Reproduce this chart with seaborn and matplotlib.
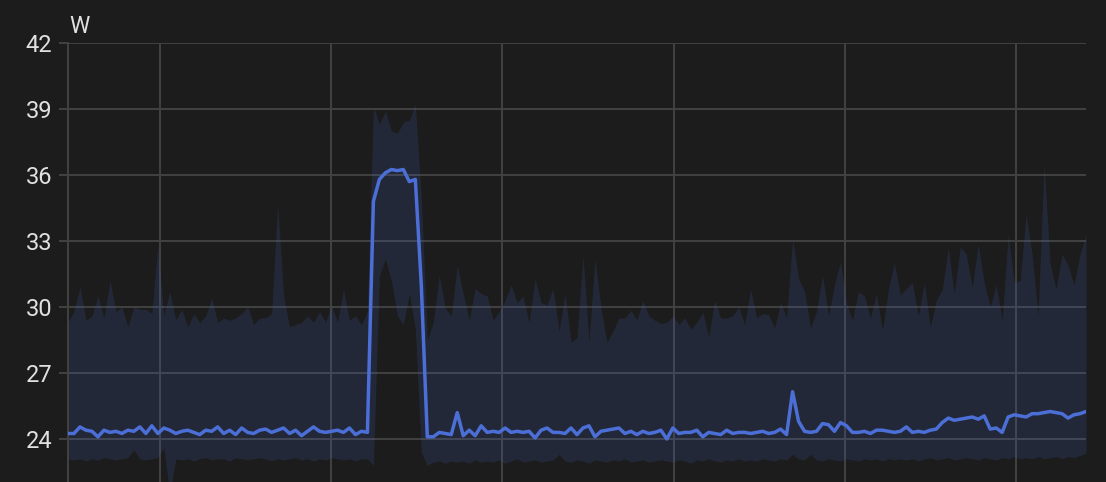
import numpy as np
import pandas as pd
import matplotlib
matplotlib.use("Agg")
import matplotlib.pyplot as plt
import matplotlib.dates as mdates
import seaborn as sns

# ---------------- data ----------------
start_time = "2024-05-01 09:51"
end_time = "2024-05-02 09:38"
unit_label = "W"
y_ticks = [24, 27, 30, 33, 36, 39, 42]

mean_w = [
    24.25, 24.25, 24.55, 24.4, 24.35, 24.1, 24.4, 24.3, 24.35, 24.25,
    24.4, 24.35, 24.55, 24.25, 24.6, 24.25, 24.5, 24.4, 24.25, 24.35,
    24.4, 24.3, 24.2, 24.4, 24.35, 24.55, 24.25, 24.4, 24.2, 24.5,
    24.3, 24.25, 24.4, 24.45, 24.3, 24.4, 24.5, 24.25, 24.4, 24.15,
    24.35, 24.55, 24.35, 24.3, 24.35, 24.4, 24.3, 24.5, 24.2, 24.35,
    24.3, 34.8, 35.8, 36.1, 36.25, 36.2, 36.25, 35.7, 35.8, 31.0,
    24.1, 24.1, 24.3, 24.25, 24.2, 25.2, 24.15, 24.4, 24.15, 24.6,
    24.3, 24.35, 24.3, 24.5, 24.3, 24.35, 24.3, 24.35, 24.05, 24.4,
    24.5, 24.3, 24.3, 24.25, 24.5, 24.2, 24.5, 24.6, 24.1, 24.35,
    24.4, 24.45, 24.5, 24.25, 24.35, 24.2, 24.35, 24.25, 24.3, 24.4,
    24.0, 24.5, 24.25, 24.3, 24.3, 24.4, 24.1, 24.3, 24.25, 24.2,
    24.4, 24.25, 24.3, 24.3, 24.25, 24.3, 24.35, 24.25, 24.3, 24.45,
    24.2, 26.15, 24.8, 24.35, 24.3, 24.35, 24.7, 24.65, 24.35, 24.75,
    24.6, 24.3, 24.3, 24.35, 24.25, 24.4, 24.4, 24.35, 24.3, 24.35,
    24.55, 24.3, 24.35, 24.3, 24.4, 24.45, 24.75, 24.95, 24.85, 24.9,
    24.95, 25.0, 24.9, 25.05, 24.45, 24.5, 24.3, 25.0, 25.1, 25.05,
    25.0, 25.15, 25.15, 25.2, 25.25, 25.2, 25.15, 24.95, 25.1, 25.15, 25.25,
]

min_w = [
    23.1, 23.05, 23.1, 23.0, 23.1, 23.05, 23.15, 23.1, 23.05, 23.1,
    23.15, 23.5, 23.1, 23.05, 23.1, 23.15, 23.6, 21.5, 23.1, 23.05,
    23.1, 23.0, 23.1, 23.15, 23.05, 23.1, 23.1, 23.0, 23.15, 23.1,
    23.05, 23.1, 23.15, 23.1, 23.0, 23.1, 23.05, 23.1, 23.15, 23.05,
    23.1, 23.0, 23.1, 23.05, 23.15, 23.1, 23.05, 23.1, 23.0, 23.1,
    23.1, 22.8, 31.4, 32.2, 31.2, 29.6, 29.2, 30.6, 29.0, 23.4,
    22.8, 22.95, 23.0, 22.9, 23.0, 22.95, 23.0, 22.9, 23.05, 22.95,
    23.0, 22.95, 23.05, 22.9, 23.0, 23.1, 22.95, 23.0, 23.05, 22.95,
    23.0, 23.05, 23.3, 23.0, 22.95, 23.05, 23.0, 22.9, 23.05, 23.0,
    22.95, 23.05, 23.0, 23.1, 22.95, 23.0, 23.05, 22.95, 23.0, 23.05,
    23.0, 22.95, 23.05, 23.0, 22.9, 23.05, 23.0, 23.1, 23.0, 22.95,
    23.05, 23.0, 23.1, 23.0, 23.05, 23.0, 23.1, 23.05, 23.0, 23.1,
    23.05, 23.3, 23.1, 23.05, 23.3, 23.05, 23.0, 23.1, 23.05, 23.0,
    23.1, 23.05, 23.0, 23.1, 23.05, 23.1, 23.0, 23.1, 23.05, 23.1,
    23.05, 23.1, 23.0, 23.1, 23.15, 23.05, 23.1, 23.15, 23.05, 23.1,
    23.15, 23.1, 23.05, 23.15, 23.1, 23.05, 23.15, 23.1, 23.2, 23.1,
    23.15, 23.1, 23.2, 23.1, 23.15, 23.2, 23.1, 23.2, 23.15, 23.25, 23.35,
]

max_w = [
    29.3, 29.8, 30.9, 29.4, 29.6, 30.5, 29.5, 31.2, 29.8, 30.0,
    29.1, 30.0, 29.9, 29.9, 29.7, 32.8, 29.6, 30.7, 29.4, 29.9,
    29.1, 29.7, 29.3, 29.6, 30.4, 29.3, 29.5, 29.4, 29.5, 29.7,
    30.0, 29.2, 29.5, 29.5, 29.7, 34.7, 30.5, 29.1, 29.2, 29.3,
    29.6, 29.3, 29.8, 29.3, 30.1, 29.3, 30.8, 29.4, 29.6, 29.2,
    29.8, 39.1, 38.3, 38.9, 38.0, 37.9, 38.4, 38.5, 39.2, 35.0,
    28.5, 29.3, 31.45, 29.95, 29.6, 31.9, 30.6, 29.4, 30.85, 30.6,
    30.5, 29.4, 29.8, 30.3, 31.0, 30.2, 30.5, 29.3, 31.3, 30.2,
    30.1, 30.85, 28.9, 30.6, 28.4, 28.6, 32.35, 28.4, 32.2, 29.95,
    28.4, 28.9, 29.5, 29.5, 29.85, 29.4, 30.3, 29.6, 29.4, 29.25,
    29.3, 29.6, 29.2, 29.5, 29.0, 29.3, 29.75, 28.65, 30.3, 29.5,
    29.5, 29.6, 30.0, 29.2, 30.8, 29.5, 29.7, 29.65, 29.05, 30.2,
    29.5, 33.1, 31.3, 30.7, 29.05, 29.8, 31.45, 29.6, 31.0, 32.05,
    30.15, 29.4, 30.7, 30.5, 29.5, 30.6, 28.95, 30.8, 32.0, 30.55,
    30.85, 31.1, 29.6, 31.1, 29.1, 30.3, 30.8, 32.7, 30.6, 32.75,
    32.4, 30.9, 32.85, 31.1, 30.0, 31.0, 29.4, 33.3, 31.1, 31.2,
    34.2, 32.4, 29.6, 36.5, 32.0, 30.8, 32.4, 31.9, 31.0, 32.4, 33.3,
]

# ---------------- styling ----------------
BG = "#1c1c1c"
GRID = "#424242"
TEXT = "#e1e1e1"
LINE = "#4b6fd6"

times = pd.date_range(start_time, end_time, periods=len(mean_w))
df = pd.DataFrame({"time": times, "mean": mean_w, "min": min_w, "max": max_w})

sns.set_theme(style="dark", rc={
    "axes.facecolor": BG,
    "figure.facecolor": BG,
    "savefig.facecolor": BG,
    "grid.color": GRID,
    "text.color": TEXT,
    "ytick.color": TEXT,
})
plt.rcParams["font.family"] = ["Roboto", "DejaVu Sans"]

W, H = 1106, 482
fig = plt.figure(figsize=(W / 100, H / 100), dpi=100)
ax = fig.add_axes([68 / W, 0, 1018 / W, 439 / H])
ax.set_facecolor(BG)

ax.fill_between(df["time"], df["min"], df["max"], color=LINE, alpha=0.15,
                linewidth=0, zorder=2)
sns.lineplot(data=df, x="time", y="mean", color=LINE, linewidth=2.5, ax=ax,
             zorder=3, solid_joinstyle="round", solid_capstyle="round")

ax.set_xlim(times[0], times[-1])
ax.set_ylim(22.045, 42)
ax.set_yticks(y_ticks)
ax.set_yticklabels([str(v) for v in y_ticks])
ax.xaxis.set_major_locator(mdates.HourLocator(byhour=range(0, 24, 4)))
ax.tick_params(axis="x", length=0, labelbottom=False)
ax.tick_params(axis="y", length=6.5, width=1.4, color=GRID, labelsize=17,
               labelcolor=TEXT, pad=5, left=True)
ax.grid(True, color=GRID, linewidth=1.4)
ax.set_axisbelow(True)
ax.set_xlabel("")
ax.set_ylabel("")
for side in ["top", "right", "bottom"]:
    ax.spines[side].set_visible(False)
ax.spines["left"].set_color(GRID)
ax.spines["left"].set_linewidth(1.4)

fig.text(69 / W, 1 - 33 / H, unit_label, color=TEXT, fontsize=16.5,
         ha="left", va="baseline")

fig.savefig("out.png", dpi=100, facecolor=BG)
